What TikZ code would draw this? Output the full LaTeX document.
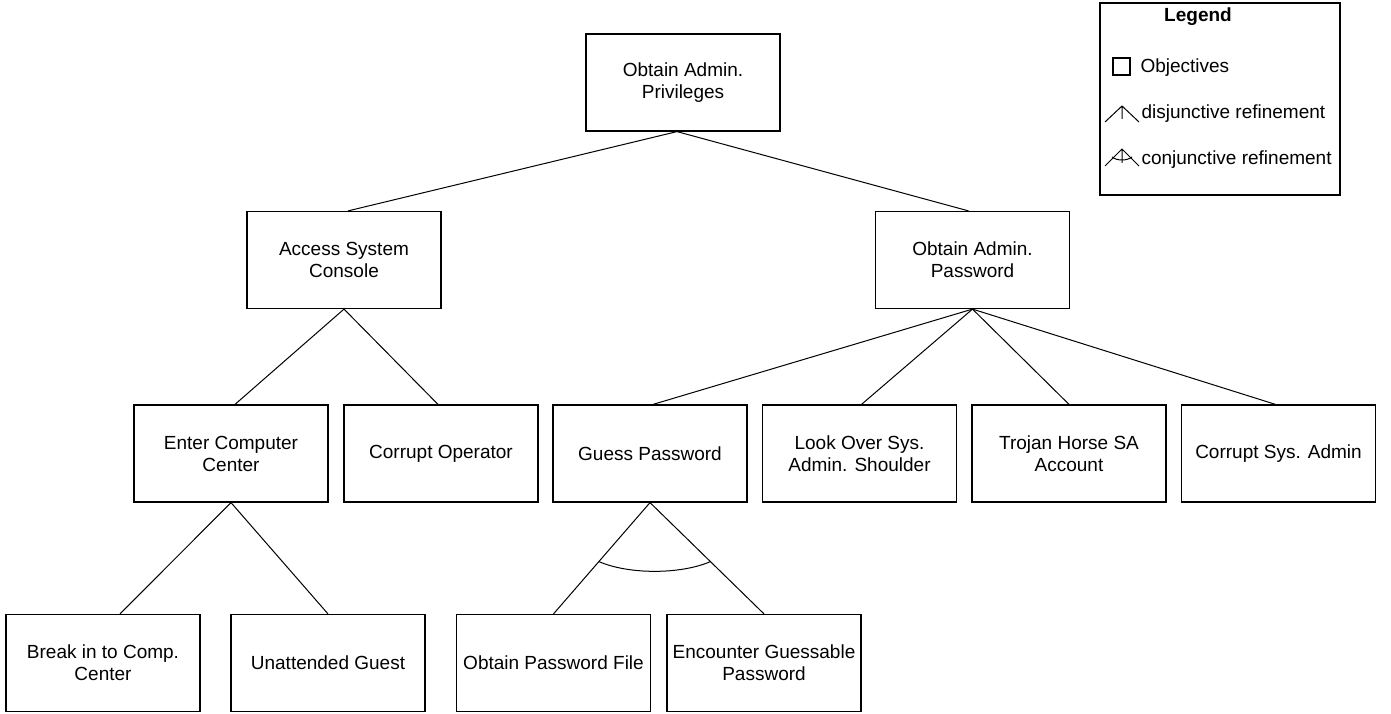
\documentclass[tikz,border=0pt]{standalone}
\usepackage{fontspec}
\setmainfont{Liberation Sans}
\usetikzlibrary{calc}

\tikzset{
  goal/.style={draw=black,line width=1.2pt,minimum width=194pt,minimum height=97pt,inner sep=0pt,align=center,font=\fontsize{19}{22}\selectfont},
  legtext/.style={anchor=base west,inner sep=0pt,font=\fontsize{19}{22}\selectfont}
}

\begin{document}
\begin{tikzpicture}[x=1pt,y=-1pt,line width=1pt]
\useasboundingbox (0,0) rectangle (1391,714);
% the goals
\node[goal] (root) at (683,82.5) {Obtain Admin.\\Privileges};
\node[goal] (console) at (344,260) {Access System\\Console};
\node[goal] (adminpw) at (972.5,260) {Obtain Admin.\\Password};
\node[goal] (enter) at (231,453.5) {Enter Computer\\Center};
\node[goal] (operator) at (441,453.5) {Corrupt Operator};
\node[goal] (guess) at (650,453.5) {Guess Password};
\node[goal] (shoulder) at (859.5,453.5) {Look Over Sys.\\Admin. Shoulder};
\node[goal] (trojan) at (1069,453.5) {Trojan Horse SA\\Account};
\node[goal] (sysadmin) at (1278.5,453.5) {Corrupt Sys. Admin};
\node[goal] (breakin) at (103,663) {Break in to Comp.\\Center};
\node[goal] (guest) at (328,663) {Unattended Guest};
\node[goal] (pwfile) at (553.5,663) {Obtain Password File};
\node[goal] (guessable) at (764,663) {Encounter Guessable\\Password};

% the refinements
\draw ([xshift=-6pt]root.south) -- ([xshift=4pt]console.north);
\draw ([xshift=-6pt]root.south) -- ([xshift=-4pt]adminpw.north);
\draw (console.south) -- ([xshift=4pt]enter.north);
\draw (console.south) -- ([xshift=-3pt]operator.north);
\draw (adminpw.south) -- ([xshift=3pt]guess.north);
\draw (adminpw.south) -- ([xshift=2pt]shoulder.north);
\draw (adminpw.south) -- (trojan.north);
\draw (adminpw.south) -- ([xshift=-3pt]sysadmin.north);
\draw (enter.south) -- ([xshift=17pt]breakin.north);
\draw (enter.south) -- (guest.north);
\draw (guess.south) -- (pwfile.north);
\draw (guess.south) -- (guessable.north);
% and-arc
\coordinate (andl) at ($(guess.south)!0.53!(pwfile.north)$);
\coordinate (andr) at ($(guess.south)!0.53!(guessable.north)$);
\draw (andl) .. controls ($(andl)+(30,13)$) and ($(andr)+(-30,13)$) .. (andr);

% the legend
\node[draw=black,line width=1.2pt,minimum width=240pt,minimum height=192pt,inner sep=0pt] (legend) at (1220,99) {};
\node[font=\fontsize{19}{22}\selectfont\bfseries,inner sep=0pt,anchor=base] (legtitle) at (1198,22) {Legend};
\node[draw=black,line width=1.2pt,minimum size=17pt,inner sep=0pt] (legbox) at (1121.5,66.5) {};
\node[legtext] (legobj) at (1140,73) {Objectives};
\draw (1105,122) -- (1122,106) -- (1139,122) (1122,106) -- (1122,119);
\node[legtext] (legor) at (1141,119) {disjunctive refinement};
\draw (1105,166) -- (1122,149) -- (1139,166) (1122,149) -- (1122,163);
\draw (1112,157) .. controls (1117,161) and (1127,161) .. (1132,157);
\node[legtext] (legand) at (1141,165) {conjunctive refinement};
\end{tikzpicture}
\end{document}
